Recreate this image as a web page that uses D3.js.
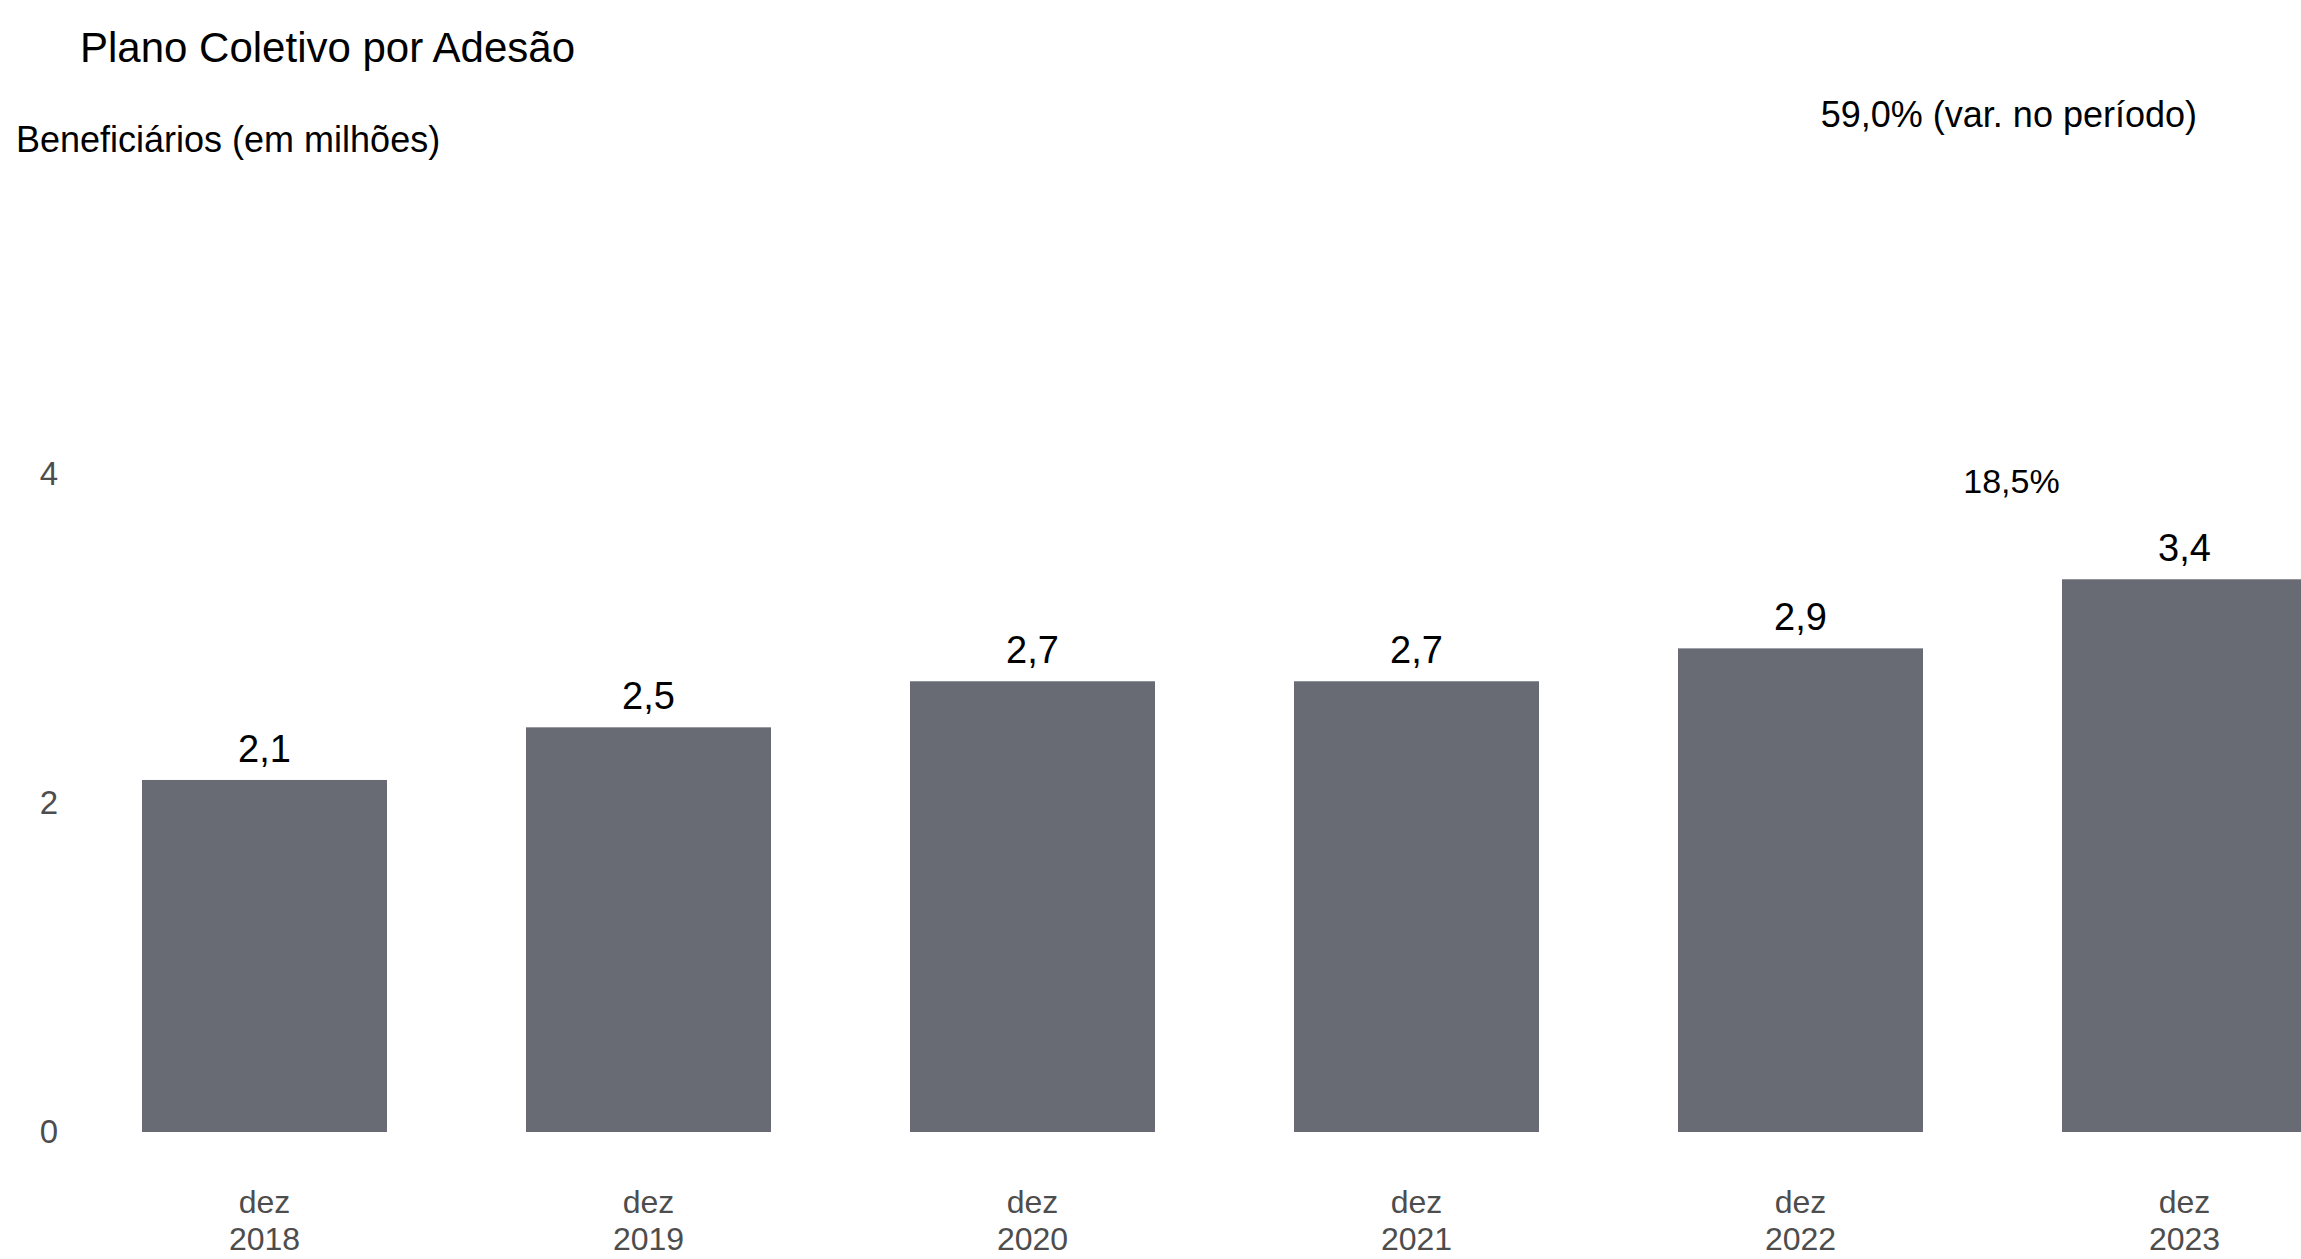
<!DOCTYPE html>
<html lang="pt-BR">
<head>
<meta charset="utf-8">
<title>Plano Coletivo por Adesão</title>
<script src="https://cdn.jsdelivr.net/npm/d3@7"></script>
<style>
  html, body { margin: 0; padding: 0; background: #ffffff; overflow: hidden; }
  svg { display: block; font-family: "Liberation Sans", Arial, Helvetica, sans-serif; }
</style>
</head>
<body>
<svg id="chart" width="2301" height="1259"></svg>
<script>
// Beneficiários em dezembro de cada ano (milhões)
const months = ["dez", "dez", "dez", "dez", "dez", "dez"];
const years = ["2018", "2019", "2020", "2021", "2022", "2023"];
const values = [2.14, 2.46, 2.74, 2.74, 2.94, 3.36];
const yTicks = [0, 2, 4];

const titleText = "Plano Coletivo por Adesão";
const subtitleText = "Beneficiários (em milhões)";
const periodChangeText = "59,0% (var. no período)";
const lastYearChangeText = "18,5%";

const barColor = "#686b74";
const axisTextColor = "#4d4d4d";

const ptBR = d3.formatLocale({ decimal: ",", thousands: ".", grouping: [3], currency: ["R$", ""] });
const fmt = ptBR.format(".1f");

const svg = d3.select("#chart");

const x = d3.scaleBand()
  .domain(years)
  .range([72.5, 2376.5])
  .paddingInner(0.362)
  .paddingOuter(0.181);

const y = d3.scaleLinear()
  .domain([0, 4])
  .range([1132, 474]);

// Títulos
svg.append("text")
  .attr("x", 80).attr("y", 62)
  .attr("font-size", 42).attr("fill", "#000")
  .text(titleText);

svg.append("text")
  .attr("x", 16).attr("y", 152)
  .attr("font-size", 36).attr("fill", "#000")
  .text(subtitleText);

svg.append("text")
  .attr("x", 2197).attr("y", 127)
  .attr("text-anchor", "end")
  .attr("font-size", 36).attr("fill", "#000")
  .text(periodChangeText);

// Eixo Y (somente rótulos)
const yAxis = svg.append("g")
  .attr("transform", "translate(66,0)")
  .call(d3.axisLeft(y).tickValues(yTicks).tickSize(0).tickPadding(8).tickFormat(d3.format("d")));
yAxis.select(".domain").remove();
yAxis.selectAll("text")
  .attr("font-family", "inherit")
  .attr("font-size", 33)
  .attr("fill", axisTextColor);

// Barras
svg.append("g")
  .selectAll("rect")
  .data(values)
  .join("rect")
  .attr("x", (d, i) => x(years[i]))
  .attr("width", x.bandwidth())
  .attr("y", d => y(d))
  .attr("height", d => y(0) - y(d))
  .attr("fill", barColor);

// Rótulos de valor
svg.append("g")
  .selectAll("text")
  .data(values)
  .join("text")
  .attr("x", (d, i) => x(years[i]) + x.bandwidth() / 2)
  .attr("y", d => y(d) - 18)
  .attr("text-anchor", "middle")
  .attr("font-size", 38)
  .attr("fill", "#000")
  .text(d => fmt(d));

// Variação do último ano
const midLast = (x(years[4]) + x(years[5]) + x.bandwidth()) / 2;
svg.append("text")
  .attr("x", midLast + 19)
  .attr("y", 493)
  .attr("text-anchor", "middle")
  .attr("font-size", 34)
  .attr("fill", "#000")
  .text(lastYearChangeText);

// Eixo X: mês e ano em duas linhas
const xLabels = svg.append("g")
  .selectAll("text")
  .data(years)
  .join("text")
  .attr("x", d => x(d) + x.bandwidth() / 2)
  .attr("y", 1213)
  .attr("text-anchor", "middle")
  .attr("font-size", 32)
  .attr("fill", axisTextColor);

xLabels.append("tspan")
  .attr("x", d => x(d) + x.bandwidth() / 2)
  .text((d, i) => months[i]);
xLabels.append("tspan")
  .attr("x", d => x(d) + x.bandwidth() / 2)
  .attr("dy", 37)
  .text(d => d);
</script>
</body>
</html>
